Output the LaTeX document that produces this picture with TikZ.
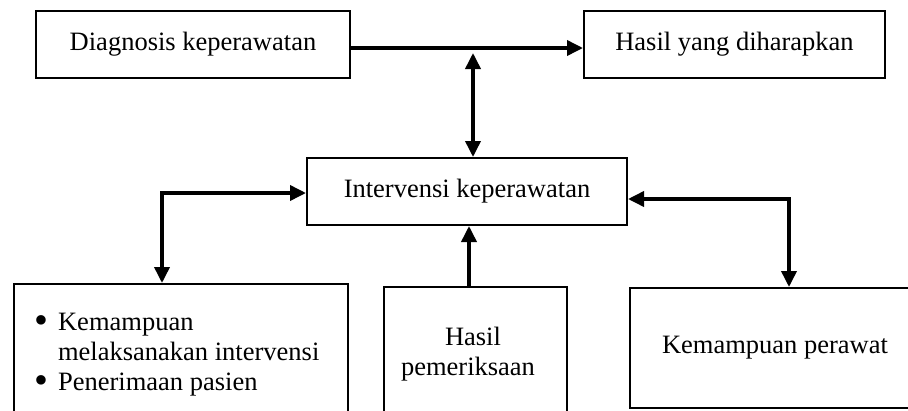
\documentclass[tikz,border=0pt]{standalone}
\usepackage{fontspec}
\setmainfont{Liberation Serif}
\usetikzlibrary{arrows.meta}
\newcommand{\bigbullet}{\raisebox{-3.5pt}{\scalebox{1.5}{\textbullet}}}
\begin{document}
\begin{tikzpicture}[x=1pt,y=-1pt,
  box/.style={draw, line width=2pt, inner sep=0pt, align=center,
    font=\fontsize{26.5}{30}\selectfont},
  txt/.style={inner sep=0pt, font=\fontsize{26.5}{30}\selectfont},
  link/.style={line width=3.6pt, -{Triangle[length=16pt,width=15pt]}},
  dlink/.style={line width=3.6pt, {Triangle[length=16pt,width=15pt]}-{Triangle[length=16pt,width=15pt]}}]
  \clip (0,0) rectangle (908,410);

  % top row
  \node[box, minimum width=314pt, minimum height=67pt] (diag) at (193,44) {Diagnosis keperawatan};
  \node[box, minimum width=301pt, minimum height=67pt] (hasil) at (734.5,44) {Hasil yang diharapkan};

  % centre
  \node[box, minimum width=320pt, minimum height=67pt] (interv) at (467,191.5) {Intervensi keperawatan};

  % bottom row (the two left boxes run past the lower edge)
  \node[box, minimum width=334pt, minimum height=150pt, anchor=north west] (faktor) at (13,283) {};
  \node[box, minimum width=183pt, minimum height=150pt, anchor=north west] (periksa) at (383,286) {};
  \node[box, minimum width=290pt, minimum height=120pt, anchor=north west] (perawat) at (629,287) {Kemampuan perawat};

  \node[txt, anchor=base west] (faktortxt) at (34,330)
    {\begin{tabular}[t]{@{}l@{\hspace{10pt}}l@{}}
      \bigbullet & Kemampuan\\
                 & melaksanakan intervensi\\
      \bigbullet & Penerimaan pasien
     \end{tabular}};
  \node[txt, anchor=base] (periksatxt) at (468,345)
    {\begin{tabular}[t]{@{}c@{}}
      \hspace{10pt}Hasil\\
      pemeriksaan
     \end{tabular}};

  % connectors
  \coordinate (topend) at (473,53);
  \draw[link] (diag.east |- 0,48) -- (hasil.west |- 0,48);
  \draw[dlink] (topend) -- (interv.north -| topend);
  \draw[dlink] (interv.west |- 0,193) -| (faktor.north -| 162,0);
  \draw[link] (periksa.north -| 469,0) -- (interv.south -| 469,0);
  \draw[dlink] (interv.east |- 0,199) -| (perawat.north -| 789,0);
\end{tikzpicture}
\end{document}
